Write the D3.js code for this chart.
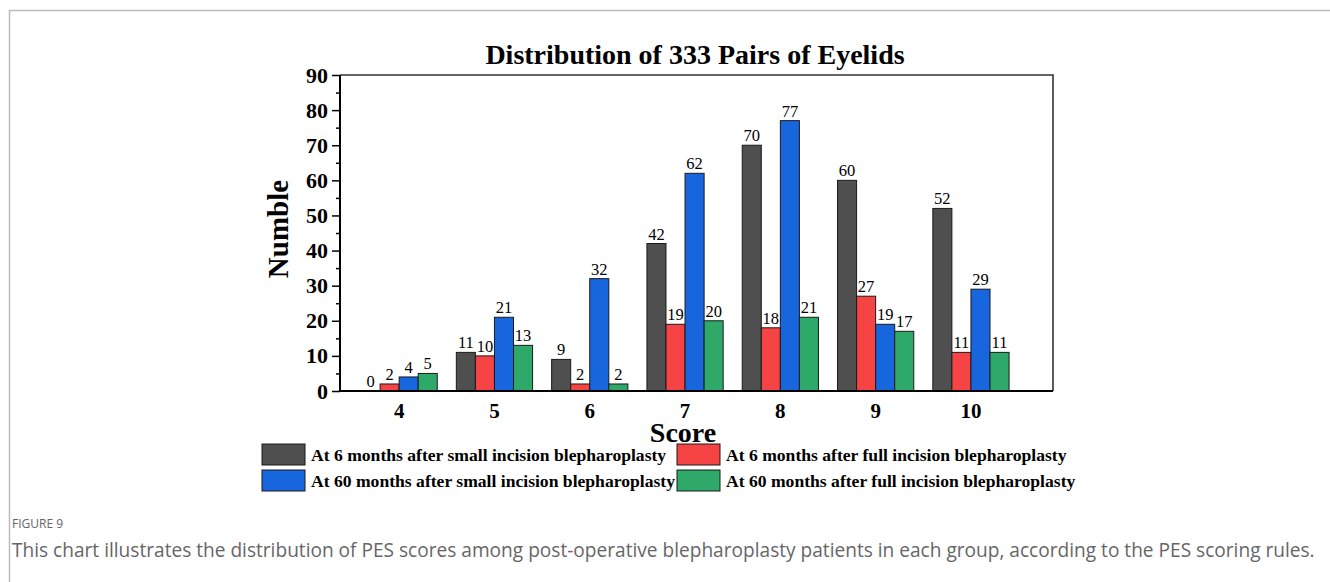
<!DOCTYPE html>
<html>
<head>
<meta charset="utf-8">
<script src="https://cdn.jsdelivr.net/npm/d3@7"></script>
<style>
  body { margin: 0; background: #fff; }
  svg { display: block; }
</style>
</head>
<body>
<svg width="1330" height="582"></svg>
<script>
// data
var scores = ["4", "5", "6", "7", "8", "9", "10"];
var seriesNames = [
  "At 6 months after small incision blepharoplasty",
  "At 6 months after full incision blepharoplasty",
  "At 60 months after small incision blepharoplasty",
  "At 60 months after full incision blepharoplasty"
];
var small6 = [0, 11, 9, 42, 70, 60, 52];
var full6 = [2, 10, 2, 19, 18, 27, 11];
var small60 = [4, 21, 32, 62, 77, 19, 29];
var full60 = [5, 13, 2, 20, 21, 17, 11];
var yTicks = [0, 10, 20, 30, 40, 50, 60, 70, 80, 90];
var colors = ["#4f4f4f", "#f64343", "#1866dd", "#2fa96a"];

var series = [small6, full6, small60, full60];

var svg = d3.select("svg");
var serif = "'Liberation Serif', 'Times New Roman', serif";

// card frame
svg.append("path")
  .attr("d", "M9.5,582 L9.5,10.5 L1330,10.5")
  .style("fill", "none")
  .style("stroke", "#bdbdbd")
  .style("stroke-width", "1.5px");

var pLeft = 340, pRight = 1053, pTop = 75, pBottom = 391;

var y = d3.scaleLinear().domain([0, 90]).range([pBottom, pTop]);
var x = d3.scaleBand().domain(scores).range([351.5, 1018.6])
  .paddingInner(0.2).paddingOuter(0.1);
var xs = d3.scaleBand().domain(d3.range(4)).range([0, x.bandwidth()]);

// frame top / right
svg.append("path")
  .attr("d", "M" + pLeft + "," + pTop + " L" + pRight + "," + pTop + " L" + pRight + "," + pBottom)
  .style("fill", "none")
  .style("stroke", "#333")
  .style("stroke-width", "1.6px");

// bars
series.forEach(function(vals, s) {
  var g = svg.append("g");
  g.selectAll("rect").data(vals).enter().append("rect")
    .attr("x", function(d, i) { return x(scores[i]) + xs(s); })
    .attr("y", function(d) { return y(d); })
    .attr("width", xs.bandwidth())
    .attr("height", function(d) { return pBottom - y(d); })
    .style("fill", colors[s])
    .style("stroke", "#1a1a1a")
    .style("stroke-width", "1px");
  g.selectAll("text").data(vals).enter().append("text")
    .attr("x", function(d, i) { return x(scores[i]) + xs(s) + xs.bandwidth() / 2; })
    .attr("y", function(d) { return y(d) - 4; })
    .attr("text-anchor", "middle")
    .style("font-family", serif)
    .style("font-size", "16.5px")
    .style("fill", "#000")
    .text(function(d) { return d; });
});

// y axis
var yAxis = svg.append("g").attr("transform", "translate(" + pLeft + ",0)")
  .call(d3.axisLeft(y).tickValues(yTicks).tickSize(8).tickPadding(4));
yAxis.select(".domain").remove();
yAxis.selectAll("text")
  .style("font-family", serif)
  .style("font-size", "22px")
  .style("font-weight", "bold")
  .style("fill", "#000");
yAxis.selectAll("line").style("stroke", "#000").style("stroke-width", "1.5px");
svg.append("g").attr("transform", "translate(" + pLeft + ",0)")
  .call(d3.axisLeft(y).tickValues(d3.range(5, 90, 10)).tickSize(4).tickFormat(""))
  .call(function(g) { g.select(".domain").remove(); })
  .selectAll("line").style("stroke", "#000").style("stroke-width", "1.5px");
svg.append("line")
  .attr("x1", pLeft).attr("x2", pLeft).attr("y1", pTop).attr("y2", pBottom)
  .style("stroke", "#000").style("stroke-width", "2px");

// x axis
var xAxis = svg.append("g").attr("transform", "translate(0," + pBottom + ")")
  .call(d3.axisBottom(x).tickSize(0).tickPadding(12));
xAxis.select(".domain").remove();
xAxis.selectAll("text")
  .style("font-family", serif)
  .style("font-size", "21px")
  .style("font-weight", "bold")
  .style("fill", "#000");
svg.append("line")
  .attr("x1", pLeft).attr("x2", pRight).attr("y1", pBottom).attr("y2", pBottom)
  .style("stroke", "#000").style("stroke-width", "2px");

// titles
svg.append("text")
  .attr("x", 695).attr("y", 64)
  .attr("text-anchor", "middle")
  .style("font-family", serif).style("font-size", "28px").style("font-weight", "bold")
  .text("Distribution of 333 Pairs of Eyelids");
svg.append("text")
  .attr("x", 683).attr("y", 442)
  .attr("text-anchor", "middle")
  .style("font-family", serif).style("font-size", "28px").style("font-weight", "bold")
  .text("Score");
svg.append("text")
  .attr("transform", "translate(288,229) rotate(-90)")
  .attr("text-anchor", "middle")
  .style("font-family", serif).style("font-size", "29px").style("font-weight", "bold")
  .text("Numble");

// legend
var legendPos = [[262, 444], [677, 444], [262, 470], [677, 470]];
var legend = svg.selectAll(".legend").data(seriesNames).enter().append("g")
  .attr("class", "legend")
  .attr("transform", function(d, i) { return "translate(" + legendPos[i][0] + "," + legendPos[i][1] + ")"; });
legend.append("rect")
  .attr("width", 43).attr("height", 21)
  .style("fill", function(d, i) { return colors[i]; })
  .style("stroke", "#1a1a1a").style("stroke-width", "1px");
legend.append("text")
  .attr("x", 49).attr("y", 17)
  .style("font-family", serif).style("font-size", "17.6px").style("font-weight", "bold")
  .text(function(d) { return d; });

// caption
svg.append("text")
  .attr("x", 12).attr("y", 528)
  .style("font-family", "'Open Sans', sans-serif").style("font-size", "12px")
  .style("fill", "#666")
  .text("FIGURE 9");
svg.append("text")
  .attr("x", 12).attr("y", 557)
  .style("font-family", "'Open Sans', sans-serif").style("font-size", "19.1px")
  .style("fill", "#666")
  .text("This chart illustrates the distribution of PES scores among post-operative blepharoplasty patients in each group, according to the PES scoring rules.");
</script>
</body>
</html>
